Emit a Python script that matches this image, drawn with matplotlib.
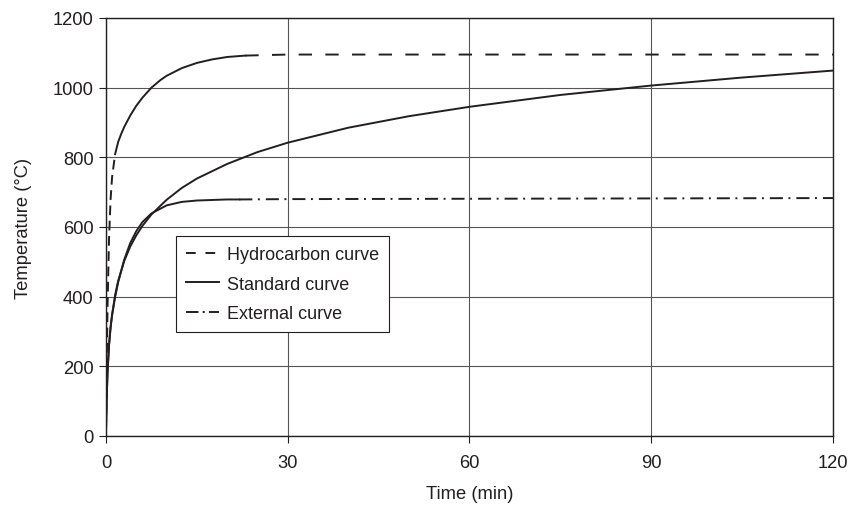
import matplotlib
matplotlib.use("Agg")
import matplotlib.pyplot as plt
import numpy as np

plt.rcParams['font.family'] = ['Liberation Sans', 'DejaVu Sans']
plt.rcParams['lines.scale_dashes'] = False

# values
hc_time = [0, 0.1, 0.25, 0.5, 0.75, 1, 1.5, 2, 2.5, 3, 4, 5, 6, 7.5, 9, 10,
           12.5, 15, 17.5, 20, 23, 30, 45, 60, 90, 120]
hc_temp = [20, 187, 373, 568, 679, 743, 809, 844, 867, 887, 920, 948, 971, 1000,
           1022, 1034, 1056, 1071, 1081, 1088, 1092, 1095, 1095, 1095, 1095, 1095]

std_time = [0, 0.1, 0.25, 0.5, 0.75, 1, 1.5, 2, 3, 4, 5, 6, 7.5, 10, 12.5, 15,
            20, 25, 30, 40, 50, 60, 75, 90, 105, 120]
std_temp = [20, 108, 185, 261, 312, 349, 404, 445, 502, 544, 576, 603, 636, 678,
            712, 739, 781, 815, 842, 885, 918, 945, 979, 1006, 1029, 1049]

ext_time = [0, 0.1, 0.25, 0.5, 0.75, 1, 1.5, 2, 3, 4, 5, 6, 7.5, 10, 12.5, 15,
            20, 22, 30, 60, 90, 120]
ext_temp = [20, 100, 182, 263, 311, 346, 399, 441, 506, 554, 588, 614, 639, 662,
            672, 676, 679, 679, 680, 681, 682, 683]

x_ticks = [0, 30, 60, 90, 120]
y_ticks = [0, 200, 400, 600, 800, 1000, 1200]

ink = '#231f20'
dash = (0, (9.6, 9.6))
dashdot = (0, (9.4, 4, 1.4, 4.3))
lw = 1.4

fig = plt.figure(figsize=(8.53, 5.06), dpi=100)
ax = fig.add_axes([0.1243, 0.1364, 0.8522, 0.8261])

hc_t = np.array(hc_time)
hc_y = np.array(hc_temp)
first = hc_t <= 1.5
mid = (hc_t >= 1.5) & (hc_t <= 23)
last = hc_t >= 23
ax.plot(hc_t[first], hc_y[first], color=ink, lw=lw, linestyle=(0, (7, 4)))
ax.plot(hc_t[mid], hc_y[mid], color=ink, lw=lw, linestyle='-')
ax.plot(hc_t[last], hc_y[last], color=ink, lw=lw, linestyle=dash)

ax.plot(std_time, std_temp, color=ink, lw=lw, linestyle='-')

ext_t = np.array(ext_time)
ext_y = np.array(ext_temp)
early = ext_t <= 22
late = ext_t >= 22
ax.plot(ext_t[early], ext_y[early], color=ink, lw=lw, linestyle='-')
ax.plot(ext_t[late], ext_y[late], color=ink, lw=lw, linestyle=dashdot)

# legend handles
h1, = ax.plot([], [], color=ink, lw=lw, linestyle=(0, (7, 7)))
h2, = ax.plot([], [], color=ink, lw=lw, linestyle='-')
h3, = ax.plot([], [], color=ink, lw=lw, linestyle=(0, (9, 3, 1.5, 3)))
fs = 13.2
leg = ax.legend([h1, h2, h3], ['Hydrocarbon curve', 'Standard curve', 'External curve'],
                loc='upper left', bbox_to_anchor=(0.096, 0.478), borderaxespad=0,
                fancybox=False, framealpha=1, edgecolor=ink, fontsize=13,
                handlelength=1.85, handletextpad=0.45, labelspacing=0.7,
                borderpad=0.55)
leg.get_frame().set_linewidth(0.8)
for t in leg.get_texts():
    t.set_color(ink)

ax.set_xlim(0, 120)
ax.set_ylim(0, 1200)
ax.set_xticks(x_ticks)
ax.set_yticks(y_ticks)
ax.grid(True, color='#555555', lw=0.8)
ax.set_axisbelow(True)
ax.tick_params(direction='out', length=5, width=0.8, colors=ink, labelsize=fs)
ax.tick_params(axis='x', pad=8)
ax.tick_params(axis='y', pad=4)
for s in ax.spines.values():
    s.set_color(ink)
    s.set_linewidth(1.0)

ax.set_xlabel('Time (min)', fontsize=fs, color=ink, labelpad=10)
ax.set_ylabel('Temperature (°C)', fontsize=fs, color=ink, labelpad=15)

fig.savefig('out.png', dpi=100)
